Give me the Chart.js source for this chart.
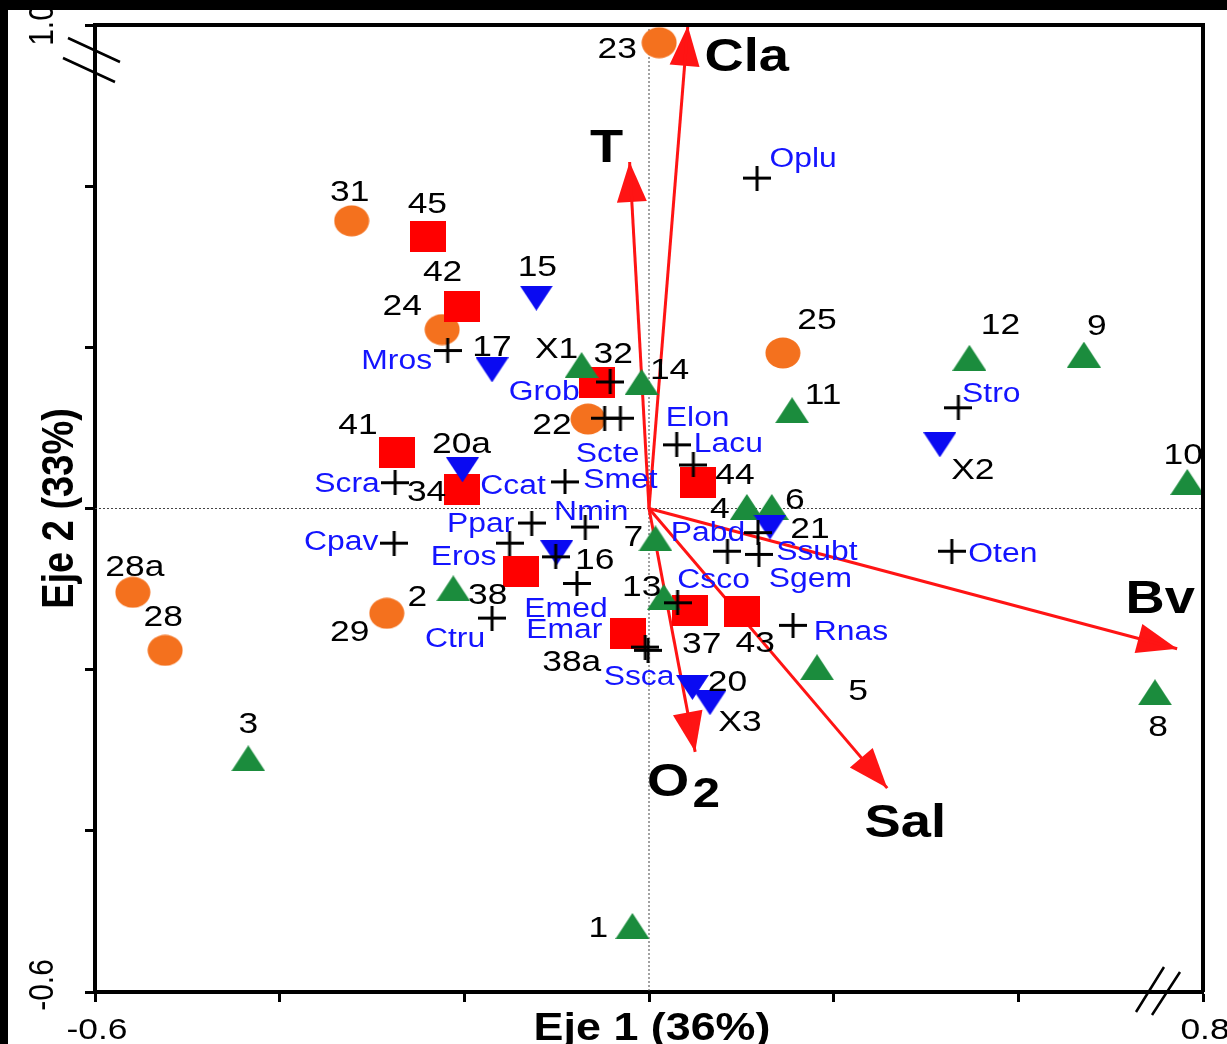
<!DOCTYPE html>
<html>
<head>
<meta charset="utf-8">
<title>Eje 1 / Eje 2</title>
<script src="https://cdn.jsdelivr.net/npm/chart.js@4.4.0/dist/chart.umd.min.js"></script>
<style>
  html, body { margin: 0; padding: 0; background: #fff; }
  canvas { display: block; }
</style>
</head>
<body>
<canvas id="ordChart" width="1227" height="1044"></canvas>
<script>
// ---------- DATA ----------
var orangeLabels = ['23', '31', '24', '25', '22', '28a', '28', '29'];
var orangeX = [0.011, -0.322, -0.224, 0.145, -0.066, -0.559, -0.524, -0.284];
var orangeY = [0.578, 0.357, 0.222, 0.193, 0.111, -0.104, -0.176, -0.130];

var redLabels = ['45', '42', '32', '41', '34', '44', '38', '37', '43', '38a'];
var redX = [-0.239, -0.203, -0.056, -0.273, -0.203, 0.053, -0.139, 0.044, 0.101, -0.023];
var redY = [0.338, 0.251, 0.156, 0.070, 0.024, 0.032, -0.078, -0.126, -0.128, -0.155];

var blueLabels = ['15', '17', '20a', '16', '21', 'X2', '20', 'X3'];
var blueX = [-0.122, -0.170, -0.202, -0.100, 0.131, 0.315, 0.047, 0.066];
var blueY = [0.261, 0.172, 0.048, -0.055, -0.023, 0.079, -0.222, -0.241];

var greenLabels = ['X1', '14', '11', '12', '9', '10', '4', '6', '7', '13', '2', '5', '8', '3', '1'];
var greenX = [-0.073, -0.008, 0.155, 0.347, 0.471, 0.583, 0.106, 0.133, 0.007, 0.016, -0.212, 0.182, 0.548, -0.434, -0.018];
var greenY = [0.178, 0.157, 0.122, 0.187, 0.191, 0.033, 0.002, 0.002, -0.037, -0.110, -0.099, -0.197, -0.228, -0.310, -0.518];

var speciesNames = ['Oplu', 'Mros', 'Grob', 'Scte', 'Smet', 'Elon', 'Lacu', 'Stro', 'Scra', 'Ccat',
                    'Nmin', 'Ppar', 'Eros', '', 'Cpav', 'Emed', 'Ctru', 'Emar', 'Ssca', 'Pabd',
                    'Sgem', 'Ssubt', 'Oten', 'Csco', 'Rnas'];
var speciesX = [0.117, -0.218, -0.042, -0.048, -0.031, 0.030, 0.048, 0.335, -0.275, -0.091,
                -0.069, -0.127, -0.151, -0.101, -0.276, -0.078, -0.170, -0.004, -0.001, 0.118,
                0.085, 0.119, 0.328, 0.031, 0.156];
var speciesY = [0.410, 0.196, 0.157, 0.112, 0.112, 0.079, 0.054, 0.125, 0.032, 0.033,
                -0.023, -0.018, -0.043, -0.060, -0.043, -0.093, -0.136, -0.172, -0.176, -0.030,
                -0.053, -0.057, -0.053, -0.117, -0.145];

// environmental vectors
var envNames = ['Cla', 'T', 'Bv', 'Sal', 'O2'];
var envX = [0.042, -0.021, 0.572, 0.258, 0.050];
var envY = [0.599, 0.430, -0.174, -0.347, -0.302];

var xTickLabels = ['-0.6', '0.8'];
var yTickLabels = ['-0.6', '1.0'];
var xTitle = 'Eje 1 (36%)';
var yTitle = 'Eje 2 (33%)';

// ---------- STYLE ----------
var TEXT_STRETCH = 1.18;   // the original figure is a bit wider than tall
var FONT = '"Liberation Sans", Arial, sans-serif';
var ARROW_RED = '#ff1414';

// label position relative to its marker, in px
var labelOffsets = {
  '23': [-42, 4], '31': [-2, -31], '24': [-40, -25], '25': [34, -35], '22': [-36, 4],
  '28a': [2, -27], '28': [-2, -35], '29': [-37, 17],
  '45': [-1, -34], '42': [-19, -36], '32': [16, -31], '41': [-39, -29], '34': [-35, 1],
  '44': [37, -10], '38': [-33, 22], '37': [12, 32], '43': [13, 30], '38a': [-56, 27],
  '15': [1, -33], '17': [0, -25], '20a': [-1, -28], '16': [38, 5], '21': [40, 0],
  'X2': [33, 23], '20': [35, -7], 'X3': [30, 17],
  'X1': [-25, -18], '14': [28, -14], '11': [31, -17], '12': [31, -35], '9': [13, -30],
  '10': [-4, -29], '4': [-27, 0], '6': [23, -9], '7': [-22, -3], '13': [-22, -12],
  '2': [-36, 7], '5': [41, 22], '8': [3, 33], '3': [0, -36], '1': [-34, 0],
  'Oplu': [46, -21], 'Mros': [-51, 9], 'Grob': [-66, 8], 'Scte': [3, 34], 'Smet': [0, 60],
  'Elon': [21, -29], 'Lacu': [35, -23], 'Stro': [33, -15], 'Scra': [-48, 0], 'Ccat': [-52, 2],
  'Nmin': [6, -17], 'Ppar': [-51, -1], 'Eros': [-46, 12], 'Cpav': [-53, -3], 'Emed': [-11, 24],
  'Ctru': [-37, 19], 'Emar': [-81, -19], 'Ssca': [-9, 25], 'Pabd': [-50, -1], 'Sgem': [83, 26],
  'Ssubt': [58, -4], 'Oten': [51, 1], 'Csco': [36, -25], 'Rnas': [58, 5],
  'Cla': [59, 29], 'T': [-23, -17], 'Bv': [-17, -52], 'Sal': [18, 32], 'O2': [-27, 28]
};

function xyPoints(xs, ys) {
  return xs.map(function (x, i) { return { x: x, y: ys[i] }; });
}

// markers drawn on small canvases so they can be a little wider than tall
function makeMarker(shape, color) {
  var c = document.createElement('canvas');
  var g;
  if (shape === 'circle') {
    c.width = 36; c.height = 32; g = c.getContext('2d');
    g.beginPath(); g.ellipse(18, 16, 17.5, 15.5, 0, 0, 2 * Math.PI);
    g.fillStyle = color; g.fill();
  } else if (shape === 'square') {
    c.width = 36; c.height = 31; g = c.getContext('2d');
    g.fillStyle = color; g.fillRect(0, 0, 36, 31);
  } else if (shape === 'up') {
    c.width = 34; c.height = 26; g = c.getContext('2d');
    g.beginPath(); g.moveTo(17, 0); g.lineTo(34, 26); g.lineTo(0, 26); g.closePath();
    g.fillStyle = color; g.fill();
  } else if (shape === 'down') {
    c.width = 33; c.height = 25; g = c.getContext('2d');
    g.beginPath(); g.moveTo(0, 0); g.lineTo(33, 0); g.lineTo(16.5, 25); g.closePath();
    g.fillStyle = color; g.fill();
  } else {
    c.width = 28; c.height = 25; g = c.getContext('2d');
    g.strokeStyle = color; g.lineWidth = 3;
    g.beginPath(); g.moveTo(0, 12.5); g.lineTo(28, 12.5); g.moveTo(14, 0); g.lineTo(14, 25); g.stroke();
  }
  return c;
}

function drawText(ctx, txt, x, y, size, bold, color, rotate) {
  ctx.save();
  ctx.translate(x, y);
  ctx.scale(TEXT_STRETCH, 1);
  if (rotate) ctx.rotate(-Math.PI / 2);
  ctx.font = (bold ? 'bold ' : '') + size + 'px ' + FONT;
  ctx.fillStyle = color;
  ctx.textAlign = 'center';
  ctx.textBaseline = 'alphabetic';
  ctx.fillText(txt, 0, size * 0.36);
  ctx.restore();
}

function drawArrowHead(ctx, x0, y0, x1, y1) {
  var ang = Math.atan2(y1 - y0, x1 - x0);
  ctx.save();
  ctx.translate(x1, y1);
  ctx.rotate(ang);
  ctx.beginPath();
  ctx.moveTo(0, 0);
  ctx.lineTo(-40, -15);
  ctx.lineTo(-40, 15);
  ctx.closePath();
  ctx.fillStyle = ARROW_RED;
  ctx.fill();
  ctx.restore();
}

// ---------- PLUGIN: zero lines, arrow heads, labels, frame ----------
var biplotDecor = {
  id: 'biplotDecor',
  beforeDatasetsDraw: function (chart) {
    var ctx = chart.ctx, a = chart.chartArea;
    var sx = chart.scales.x, sy = chart.scales.y;
    var x0 = sx.getPixelForValue(0), y0 = sy.getPixelForValue(0);
    ctx.save();
    ctx.strokeStyle = '#444';
    ctx.lineWidth = 1;
    ctx.setLineDash([2, 2]);
    ctx.beginPath();
    ctx.moveTo(x0, a.top); ctx.lineTo(x0, a.bottom);
    ctx.moveTo(a.left, y0); ctx.lineTo(a.right, y0);
    ctx.stroke();
    ctx.restore();

    chart.data.datasets.forEach(function (ds, i) {
      if (!ds.isArrow) return;
      var pts = chart.getDatasetMeta(i).data;
      drawArrowHead(ctx, pts[0].x, pts[0].y, pts[1].x, pts[1].y);
    });
  },
  afterDatasetsDraw: function (chart) {
    var ctx = chart.ctx;
    chart.data.datasets.forEach(function (ds, i) {
      var pts = chart.getDatasetMeta(i).data;
      if (ds.isArrow) {
        var off = labelOffsets[ds.label];
        var tx = pts[1].x + off[0], ty = pts[1].y + off[1];
        if (ds.label === 'O2') {
          drawText(ctx, 'O', tx, ty, 46, true, '#000');
          drawText(ctx, '2', tx + 38, ty + 12, 42, true, '#000');
        } else {
          drawText(ctx, ds.label, tx, ty, 46, true, '#000');
        }
        return;
      }
      if (!ds.pointLabels) return;
      pts.forEach(function (p, j) {
        var txt = ds.pointLabels[j];
        if (!txt || !labelOffsets[txt]) return;
        var o = labelOffsets[txt];
        drawText(ctx, txt, p.x + o[0], p.y + o[1], ds.labelSize, false, ds.labelColor);
      });
    });
  },
  afterDraw: function (chart) {
    var ctx = chart.ctx, a = chart.chartArea;
    var sx = chart.scales.x, sy = chart.scales.y;
    ctx.save();
    ctx.strokeStyle = '#000';
    ctx.lineWidth = 4;
    ctx.beginPath();
    ctx.moveTo(a.left - 2, a.top); ctx.lineTo(a.right + 2, a.top);
    ctx.moveTo(a.right, a.top); ctx.lineTo(a.right, a.bottom);
    ctx.stroke();

    // axis breaks
    ctx.lineWidth = 2.5;
    ctx.beginPath();
    ctx.moveTo(a.left - 27, a.top + 13); ctx.lineTo(a.left + 25, a.top + 37);
    ctx.moveTo(a.left - 32, a.top + 33); ctx.lineTo(a.left + 20, a.top + 57);
    ctx.moveTo(a.right - 67, a.bottom + 20); ctx.lineTo(a.right - 39, a.bottom - 25);
    ctx.moveTo(a.right - 51, a.bottom + 23); ctx.lineTo(a.right - 23, a.bottom - 20);
    ctx.stroke();
    ctx.restore();

    // tick labels at the two ends of each axis
    drawText(ctx, xTickLabels[0], sx.getPixelForValue(sx.min) + 2, a.bottom + 36, 30, false, '#000');
    drawText(ctx, xTickLabels[1], sx.getPixelForValue(sx.max) + 2, a.bottom + 36, 30, false, '#000');
    drawText(ctx, yTickLabels[0], 40, sy.getPixelForValue(sy.min) - 7, 30, false, '#000', true);
    drawText(ctx, yTickLabels[1], 40, sy.getPixelForValue(sy.max) + 0, 30, false, '#000', true);

    // axis titles
    drawText(ctx, xTitle, (a.left + a.right) / 2 + 3, a.bottom + 34, 38, true, '#000');
    drawText(ctx, yTitle, 57, (a.top + a.bottom) / 2, 38, true, '#000', true);

    // dark edge of the scanned figure
    ctx.fillStyle = '#000';
    ctx.fillRect(0, 0, chart.width, 10);
    ctx.fillRect(0, 0, 8, chart.height);
  }
};

// ---------- DATASETS ----------
var datasets = [];
envNames.forEach(function (name, i) {
  datasets.push({
    label: name,
    isArrow: true,
    data: [{ x: 0, y: 0 }, { x: envX[i], y: envY[i] }],
    showLine: true,
    borderColor: ARROW_RED,
    borderWidth: 3,
    pointRadius: 0,
    order: 6
  });
});
datasets.push({
  label: 'naranja', data: xyPoints(orangeX, orangeY), pointStyle: makeMarker('circle', '#f4711e'),
  pointRadius: 10, order: 5, clip: false, pointLabels: orangeLabels, labelColor: '#000', labelSize: 30
});
datasets.push({
  label: 'rojo', data: xyPoints(redX, redY), pointStyle: makeMarker('square', '#ff0000'),
  pointRadius: 10, order: 4, clip: false, pointLabels: redLabels, labelColor: '#000', labelSize: 30
});
datasets.push({
  label: 'verde', data: xyPoints(greenX, greenY), pointStyle: makeMarker('up', '#1b8c3d'),
  pointRadius: 10, order: 3, clip: false, pointLabels: greenLabels, labelColor: '#000', labelSize: 30
});
datasets.push({
  label: 'azul', data: xyPoints(blueX, blueY), pointStyle: makeMarker('down', '#0a0af2'),
  pointRadius: 10, order: 2, clip: false, pointLabels: blueLabels, labelColor: '#000', labelSize: 30
});
datasets.push({
  label: 'especies', data: xyPoints(speciesX, speciesY), pointStyle: makeMarker('cross', '#000'),
  pointRadius: 10, order: 1, clip: false, pointLabels: speciesNames, labelColor: '#1414ff', labelSize: 27
});

var ctx = document.getElementById('ordChart').getContext('2d');
var ordChart = new Chart(ctx, {
  type: 'scatter',
  data: { datasets: datasets },
  options: {
    responsive: false,
    animation: false,
    events: [],
    layout: { padding: { top: 25, right: 24, left: 0, bottom: 0 } },
    plugins: { legend: { display: false }, tooltip: { enabled: false } },
    scales: {
      x: {
        type: 'linear', min: -0.6, max: 0.6,
        ticks: { display: false, stepSize: 0.2 },
        grid: { drawOnChartArea: false, drawTicks: true, tickLength: 10, tickWidth: 3, tickColor: '#000' },
        border: { display: true, color: '#000', width: 4 },
        afterFit: function (s) { s.height = 52; }
      },
      y: {
        type: 'linear', min: -0.6, max: 0.6,
        ticks: { display: false, stepSize: 0.2 },
        grid: { drawOnChartArea: false, drawTicks: true, tickLength: 10, tickWidth: 3, tickColor: '#000' },
        border: { display: true, color: '#000', width: 4 },
        afterFit: function (s) { s.width = 95; }
      }
    }
  },
  plugins: [biplotDecor]
});
</script>
</body>
</html>
